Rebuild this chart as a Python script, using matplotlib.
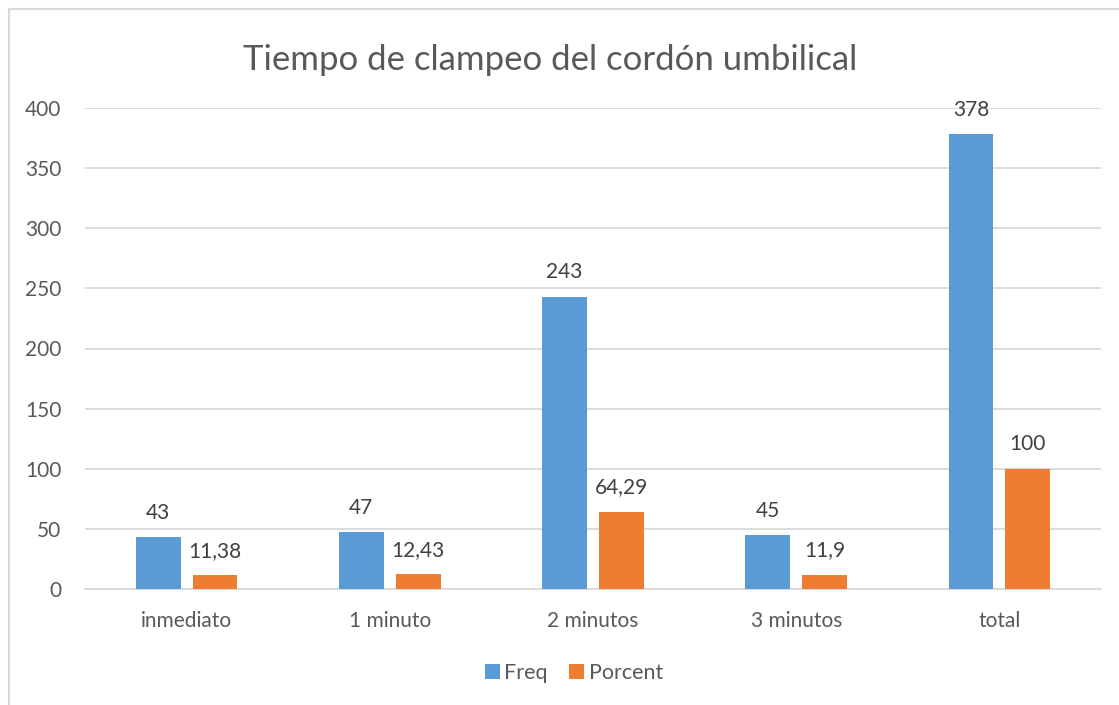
import matplotlib as mpl
mpl.use('Agg')
import matplotlib.pyplot as plt
from matplotlib.patches import Rectangle
import numpy as np

categories = ["inmediato", "1 minuto", "2 minutos", "3 minutos", "total"]
freq = [43, 47, 243, 45, 378]
porcent = [11.38, 12.43, 64.29, 11.9, 100]
freq_labels = ["43", "47", "243", "45", "378"]
porcent_labels = ["11,38", "12,43", "64,29", "11,9", "100"]

plt.rcParams['font.family'] = ['Lato', 'DejaVu Sans']
text_color = "#595959"
blue = "#5B9BD5"
orange = "#ED7D31"

W, H = 1119, 705
fig = plt.figure(figsize=(W / 100, H / 100), dpi=100)
fig.patches.append(Rectangle((9 / W, -0.1), 1.2, 1 - 9 / H + 0.1, transform=fig.transFigure,
                             fill=False, edgecolor="#D9D9D9", linewidth=1.5))

ax = fig.add_axes([85 / W, 1 - 589 / H, (1101 - 85) / W, (589 - 108) / H])
x = np.arange(len(categories))
width = 0.22
off = 0.14
b1 = ax.bar(x - off, freq, width, color=blue, label="Freq", zorder=3)
b2 = ax.bar(x + off, porcent, width, color=orange, label="Porcent", zorder=3)

for rect, lab in zip(b1, freq_labels):
    ax.annotate(lab, (rect.get_x() + rect.get_width() / 2, rect.get_height()),
                xytext=(0, 17.5), textcoords="offset points", ha="center", va="center",
                fontsize=15, color="#404040")
for rect, lab in zip(b2, porcent_labels):
    ax.annotate(lab, (rect.get_x() + rect.get_width() / 2, rect.get_height()),
                xytext=(0, 17.5), textcoords="offset points", ha="center", va="center",
                fontsize=15, color="#404040")

ax.set_xlim(-0.5, len(categories) - 0.5)
ax.set_ylim(0, 400)
ax.set_yticks(range(0, 401, 50))
ax.set_xticks(x)
ax.set_xticklabels(categories)
ax.tick_params(axis="both", length=0, labelsize=15, labelcolor=text_color)
ax.tick_params(axis="x", pad=16)
ax.tick_params(axis="y", pad=17)
ax.yaxis.grid(True, color="#D9D9D9", linewidth=1.3, zorder=0)
for s in ["top", "right", "left"]:
    ax.spines[s].set_visible(False)
ax.spines["bottom"].set_color("#D9D9D9")
ax.spines["bottom"].set_linewidth(1.3)

fig.text(550 / W, 1 - 60 / H, "Tiempo de clampeo del cordón umbilical", ha="center", va="center",
         fontsize=25, color=text_color)

fig.legend(handles=[b1, b2], loc="center", bbox_to_anchor=(574 / W, 1 - 673 / H), ncol=2,
           frameon=False, fontsize=15.5, labelcolor=text_color, handlelength=0.7,
           handleheight=0.7, handletextpad=0.2, columnspacing=1.0)

fig.savefig("out.png", dpi=100)
